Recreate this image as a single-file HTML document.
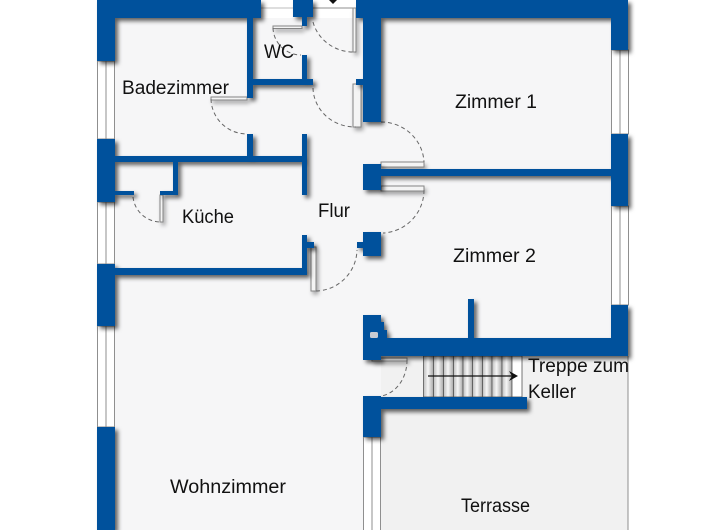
<!DOCTYPE html>
<html>
<head>
<meta charset="utf-8">
<style>
html,body{margin:0;padding:0;background:#fff;width:720px;height:530px;overflow:hidden}
svg{display:block}
text{font-family:"Liberation Sans",sans-serif;font-size:19px;fill:#111}
</style>
</head>
<body>
<svg width="720" height="530" viewBox="0 0 720 530" xmlns="http://www.w3.org/2000/svg">
<defs>
<filter id="s" x="-5%" y="-5%" width="110%" height="110%">
<feDropShadow dx="3" dy="3" stdDeviation="2" flood-color="#000" flood-opacity="0.62"/>
</filter>
<filter id="l" x="-30%" y="-30%" width="160%" height="160%">
<feDropShadow dx="2" dy="3" stdDeviation="2" flood-color="#000" flood-opacity="0.35"/>
</filter>
<linearGradient id="t" x1="0" x2="1" y1="0" y2="0">
<stop offset="0" stop-color="#bdbdbd"/><stop offset="0.45" stop-color="#f6f6f6"/><stop offset="1" stop-color="#a8a8a8"/>
</linearGradient>
</defs>

<!-- floors -->
<rect x="115" y="18" width="496" height="512" fill="#f6f6f7"/>
<rect x="381" y="356" width="247" height="174" fill="#f1f1f1"/>
<rect x="313" y="0" width="43" height="8" fill="#fff"/>
<rect x="97" y="0" width="18" height="530" fill="#fff"/>
<rect x="611" y="18" width="17" height="338" fill="#fff"/>
<line x1="628" y1="356" x2="628" y2="530" stroke="#8f8f8f"/>

<!-- windows -->
<g fill="#fff" stroke="#8f8f8f" stroke-width="1">
<rect x="97.5" y="61" width="17" height="78"/><line x1="106" y1="61" x2="106" y2="139"/>
<rect x="97.5" y="202" width="17" height="62"/><line x1="106" y1="202" x2="106" y2="264"/>
<rect x="97.5" y="326" width="17" height="101"/><line x1="106" y1="326" x2="106" y2="427"/>
<rect x="611.5" y="50" width="17" height="84"/><line x1="620" y1="50" x2="620" y2="134"/>
<rect x="611.5" y="206" width="17" height="99"/><line x1="620" y1="206" x2="620" y2="305"/>
<rect x="363.5" y="437" width="17" height="94"/><line x1="372" y1="437" x2="372" y2="530"/>
</g>
<rect x="261" y="0" width="32" height="17" fill="#fff"/>
<line x1="261" y1="8" x2="293" y2="8" stroke="#bdbdbd"/>

<!-- stairs -->
<g fill="url(#t)" stroke="#555" stroke-width="0.8">
<rect x="423.5" y="356" width="10" height="41"/><rect x="433.5" y="356" width="10" height="41"/>
<rect x="443.5" y="356" width="10" height="41"/><rect x="453.5" y="356" width="9.5" height="41"/>
<rect x="463" y="356" width="9.5" height="41"/><rect x="472.5" y="356" width="10" height="41"/>
<rect x="482.5" y="356" width="9.5" height="41"/><rect x="492" y="356" width="10" height="41"/>
<rect x="502" y="356" width="10" height="41"/>
</g>
<rect x="512" y="356" width="10" height="41" fill="#fff" stroke="#555" stroke-width="0.8"/>
<line x1="428" y1="376" x2="515" y2="376" stroke="#111" stroke-width="1.3"/>
<path d="M509 371 L518 376 L509 381 L512 376 Z" fill="#111"/>

<!-- door leaves -->
<g filter="url(#l)" fill="#f4f4f4" stroke="#858585" stroke-width="1">
<rect x="273" y="26" width="29" height="2.5"/>
<rect x="353" y="8" width="3" height="44"/>
<rect x="353" y="84" width="8" height="43"/>
<rect x="211" y="97" width="36" height="3"/>
<rect x="381" y="162" width="43" height="5"/>
<rect x="381" y="186" width="43" height="5"/>
<rect x="160" y="195" width="3" height="27"/>
<rect x="311" y="247" width="5" height="44"/>
<rect x="372" y="358" width="35" height="3"/>
</g>
<line x1="313" y1="8" x2="356" y2="8" stroke="#8f8f8f"/>

<!-- door arcs -->
<g fill="none" stroke="#666" stroke-width="1" stroke-dasharray="4 3">
<path d="M273 28 A28 28 0 0 0 301 55"/>
<path d="M313 22 A42 40 0 0 0 356 52"/>
<path d="M313 88 A42 40 0 0 0 356 127"/>
<path d="M211 99 A36 36 0 0 0 247 134"/>
<path d="M381 122 A43 42 0 0 1 424 162"/>
<path d="M424 190 A43 43 0 0 1 383 233"/>
<path d="M133 197 A28 28 0 0 0 161 222"/>
<path d="M316 291 A42 42 0 0 0 357 250"/>
<path d="M407 360 A30 36 0 0 1 381 396"/>
</g>

<!-- walls -->
<g fill="#03519c" filter="url(#s)">
<path d="M97 0H261V18H115V61H97Z"/>
<path d="M293 0H313V17H307V26H302V17H293Z"/>
<path d="M356 0H628V50H611V18H381V122H363V85H356V79H363V18H356Z"/>
<path d="M247 18H253V79H313V85H253V98H247Z"/>
<rect x="302" y="55" width="5" height="25"/>
<path d="M97 139H115V156H247V134H253V156H302V134H307V195H302V162H178V195H160V191H173V162H115V191H134V195H115V202H97Z"/>
<path d="M302 235H307V242H314V248H307V275H115V326H97V264H115V268H302Z"/>
<rect x="97" y="427" width="18" height="103"/>
<path d="M611 134H628V206H611V176H381V190H363V164H381V169H611Z"/>
<path d="M363 232H381V256H363V248H357V242H363Z"/>
<path d="M363 315H381V322H384V330H387V338H468V299H474V338H611V305H628V356H381V360H363Z"/>
<path d="M363 396H381V397H527V409H381V437H363Z"/>
</g>
<rect x="370" y="332" width="8" height="6" rx="1.5" fill="#c9ccd2"/>
<path d="M329 0H337L333 4Z" fill="#111"/>

<!-- labels -->
<text x="122" y="94" textLength="107" lengthAdjust="spacingAndGlyphs">Badezimmer</text>
<text x="264" y="58" textLength="30" lengthAdjust="spacingAndGlyphs">WC</text>
<text x="455" y="108" textLength="82" lengthAdjust="spacingAndGlyphs">Zimmer 1</text>
<text x="318" y="217" textLength="32" lengthAdjust="spacingAndGlyphs">Flur</text>
<text x="182" y="223" textLength="52" lengthAdjust="spacingAndGlyphs">Küche</text>
<text x="453" y="262" textLength="83" lengthAdjust="spacingAndGlyphs">Zimmer 2</text>
<text x="528" y="372" textLength="101" lengthAdjust="spacingAndGlyphs">Treppe zum</text>
<text x="528" y="398" textLength="48" lengthAdjust="spacingAndGlyphs">Keller</text>
<text x="170" y="493" textLength="116" lengthAdjust="spacingAndGlyphs">Wohnzimmer</text>
<text x="461" y="512" textLength="69" lengthAdjust="spacingAndGlyphs">Terrasse</text>
</svg>
</body>
</html>
